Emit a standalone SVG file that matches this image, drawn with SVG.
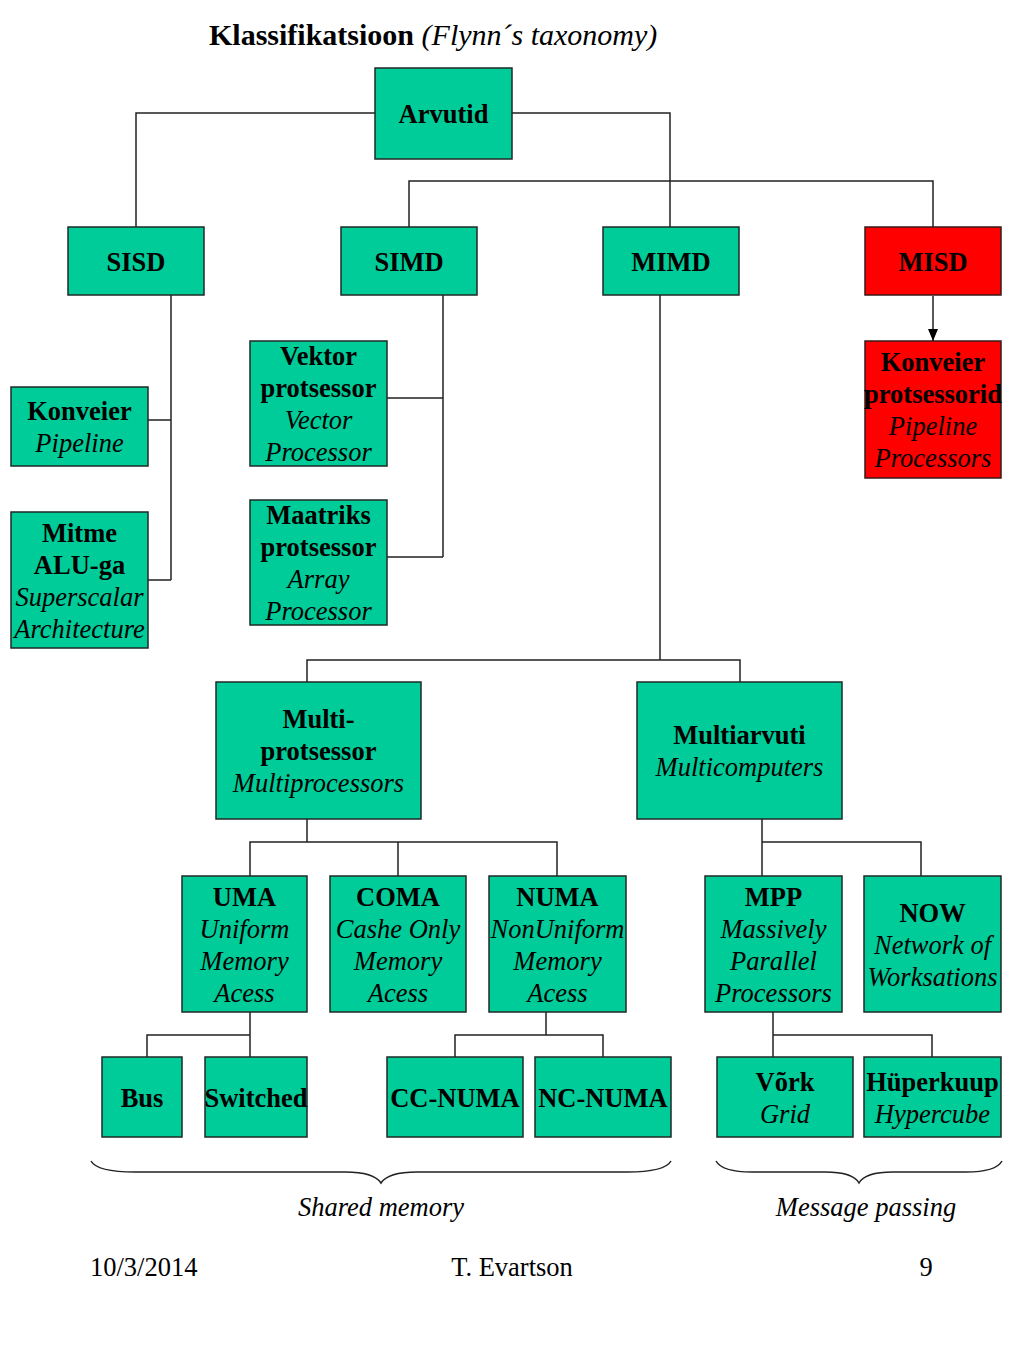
<svg xmlns="http://www.w3.org/2000/svg" width="1024" height="1365" viewBox="0 0 1024 1365">
<style>
.g{fill:#00CC99;stroke:#1f2a26;stroke-width:1.5}
.r{fill:#FF0000;stroke:#3a1a1a;stroke-width:1.5}
text{font-family:"Liberation Serif","Times New Roman",serif;font-size:26.5px;fill:#000}
.n{text-anchor:middle}
.b{font-weight:bold}
.i{font-style:italic}
.c{fill:none;stroke:#222;stroke-width:1.5}
</style>
<defs>
<marker id="ah" viewBox="0 0 12 12" refX="12" refY="6" markerWidth="12" markerHeight="12" markerUnits="userSpaceOnUse" orient="auto">
<path d="M0,1 L12,6 L0,11 z" fill="#000"/>
</marker>
</defs>
<rect width="1024" height="1365" fill="#fff"/>
<text x="209" y="45" style="font-size:30px"><tspan class="b">Klassifikatsioon</tspan> <tspan class="i">(Flynn´s taxonomy)</tspan></text>

<g id="connectors" class="c">
<path d="M375,113 H136 V227"/>
<path d="M512,113 H670 V227"/>
<path d="M409,227 V181 H933 V227"/>
<path d="M171,295 V580 M148,420 H171 M148,580 H171"/>
<path d="M443,295 V557 M387,398 H443 M387,557 H443"/>
<path d="M933,296 V341" marker-end="url(#ah)"/>
<path d="M660,295 V660 M307,682 V660 H740 V682"/>
<path d="M307,819 V842 M250,876 V842 H557 V876 M398,842 V876"/>
<path d="M762,819 V876 M762,842 H921 V876"/>
<path d="M250,1012 V1057 M147,1057 V1035 H250"/>
<path d="M546,1012 V1035 M455,1057 V1035 H603 V1057"/>
<path d="M773,1012 V1057 M773,1035 H932 V1057"/>
</g>

<g id="arvutid"><rect class="g" x="375" y="68" width="137" height="91"/><text class="n b" x="443.5" y="123">Arvutid</text></g>
<g id="sisd"><rect class="g" x="68" y="227" width="136" height="68"/><text class="n b" x="136" y="270.5">SISD</text></g>
<g id="simd"><rect class="g" x="341" y="227" width="136" height="68"/><text class="n b" x="409" y="270.5">SIMD</text></g>
<g id="mimd"><rect class="g" x="603" y="227" width="136" height="68"/><text class="n b" x="671" y="270.5">MIMD</text></g>
<g id="misd"><rect class="r" x="865" y="227" width="136" height="68"/><text class="n b" x="933" y="270.5">MISD</text></g>

<g id="konveier"><rect class="g" x="11" y="387" width="137" height="79"/>
<text class="n b" x="79.5" y="420">Konveier</text><text class="n i" x="79.5" y="452">Pipeline</text></g>
<g id="mitme"><rect class="g" x="11" y="512" width="137" height="136"/>
<text class="n b" x="79.5" y="541.5">Mitme</text><text class="n b" x="79.5" y="573.5">ALU-ga</text><text class="n i" x="79.5" y="605.5">Superscalar</text><text class="n i" x="79.5" y="637.5">Architecture</text></g>

<g id="vektor"><rect class="g" x="250" y="341" width="137" height="125"/>
<text class="n b" x="318.5" y="365">Vektor</text><text class="n b" x="318.5" y="397">protsessor</text><text class="n i" x="318.5" y="429">Vector</text><text class="n i" x="318.5" y="461">Processor</text></g>
<g id="maatriks"><rect class="g" x="250" y="500" width="137" height="125"/>
<text class="n b" x="318.5" y="524">Maatriks</text><text class="n b" x="318.5" y="556">protsessor</text><text class="n i" x="318.5" y="588">Array</text><text class="n i" x="318.5" y="620">Processor</text></g>

<g id="konveier-protsessorid"><rect class="r" x="865" y="341" width="136" height="137"/>
<text class="n b" x="933" y="371">Konveier</text><text class="n b" x="933" y="403">protsessorid</text><text class="n i" x="933" y="435">Pipeline</text><text class="n i" x="933" y="467">Processors</text></g>

<g id="multiprotsessor"><rect class="g" x="216" y="682" width="205" height="137"/>
<text class="n b" x="318.5" y="728">Multi-</text><text class="n b" x="318.5" y="760">protsessor</text><text class="n i" x="318.5" y="792">Multiprocessors</text></g>
<g id="multiarvuti"><rect class="g" x="637" y="682" width="205" height="137"/>
<text class="n b" x="739.5" y="744">Multiarvuti</text><text class="n i" x="739.5" y="776">Multicomputers</text></g>

<g id="uma"><rect class="g" x="182" y="876" width="125" height="136"/>
<text class="n b" x="244.5" y="905.5">UMA</text><text class="n i" x="244.5" y="937.5">Uniform</text><text class="n i" x="244.5" y="969.5">Memory</text><text class="n i" x="244.5" y="1001.5">Acess</text></g>
<g id="coma"><rect class="g" x="330" y="876" width="136" height="136"/>
<text class="n b" x="398" y="905.5">COMA</text><text class="n i" x="398" y="937.5">Cashe Only</text><text class="n i" x="398" y="969.5">Memory</text><text class="n i" x="398" y="1001.5">Acess</text></g>
<g id="numa"><rect class="g" x="489" y="876" width="137" height="136"/>
<text class="n b" x="557.5" y="905.5">NUMA</text><text class="n i" x="557.5" y="937.5">NonUniform</text><text class="n i" x="557.5" y="969.5">Memory</text><text class="n i" x="557.5" y="1001.5">Acess</text></g>
<g id="mpp"><rect class="g" x="705" y="876" width="137" height="136"/>
<text class="n b" x="773.5" y="905.5">MPP</text><text class="n i" x="773.5" y="937.5">Massively</text><text class="n i" x="773.5" y="969.5">Parallel</text><text class="n i" x="773.5" y="1001.5">Processors</text></g>
<g id="now"><rect class="g" x="864" y="876" width="137" height="136"/>
<text class="n b" x="932.5" y="921.5">NOW</text><text class="n i" x="932.5" y="953.5">Network of</text><text class="n i" x="932.5" y="985.5">Worksations</text></g>

<g id="bus"><rect class="g" x="102" y="1057" width="80" height="80"/><text class="n b" x="142" y="1106.5">Bus</text></g>
<g id="switched"><rect class="g" x="205" y="1057" width="102" height="80"/><text class="n b" x="256" y="1106.5">Switched</text></g>
<g id="cc-numa"><rect class="g" x="387" y="1057" width="136" height="80"/><text class="n b" x="455" y="1106.5">CC-NUMA</text></g>
<g id="nc-numa"><rect class="g" x="535" y="1057" width="136" height="80"/><text class="n b" x="603" y="1106.5">NC-NUMA</text></g>
<g id="vork"><rect class="g" x="717" y="1057" width="136" height="80"/>
<text class="n b" x="785" y="1090.5">Võrk</text><text class="n i" x="785" y="1122.5">Grid</text></g>
<g id="hyperkuup"><rect class="g" x="864" y="1057" width="137" height="80"/>
<text class="n b" x="932.5" y="1090.5">Hüperkuup</text><text class="n i" x="932.5" y="1122.5">Hypercube</text></g>

<g id="braces" class="c">
<path d="M91,1161 Q97,1172 135,1172 L345,1172 Q374,1172 381,1183 Q388,1172 417,1172 L627,1172 Q665,1172 671,1161"/>
<path d="M716,1161 Q722,1172 752,1172 L825,1172 Q853,1172 859,1183 Q865,1172 893,1172 L966,1172 Q996,1172 1002,1161"/>
</g>
<text class="n i" x="381" y="1216">Shared memory</text>
<text class="n i" x="866" y="1216">Message passing</text>

<text x="90" y="1276">10/3/2014</text>
<text class="n" x="512" y="1276">T. Evartson</text>
<text class="n" x="926" y="1276">9</text>
</svg>
